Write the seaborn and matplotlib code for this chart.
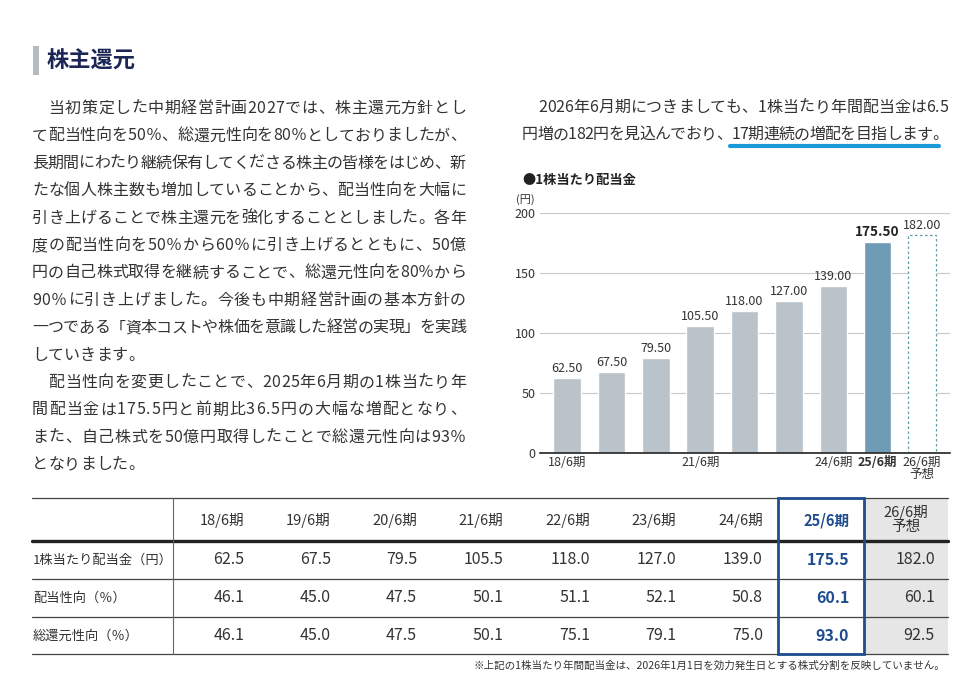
"""
株主還元 - dividend per share chart with text and summary table
"""

import numpy as np
import seaborn as sns
import matplotlib.pyplot as plt
from matplotlib import font_manager
from matplotlib.ft2font import FT2Font
from matplotlib.patches import Rectangle

sns.set_style('white')
plt.rcParams['font.family'] = ['Noto Sans CJK JP', 'DejaVu Sans']

# Data

periods = ['18/6期', '19/6期', '20/6期', '21/6期', '22/6期', '23/6期', '24/6期', '25/6期', '26/6期']
dividend = [62.5, 67.5, 79.5, 105.5, 118.0, 127.0, 139.0, 175.5, 182.0]
payout = [46.1, 45.0, 47.5, 50.1, 51.1, 52.1, 50.8, 60.1, 60.1]
total_return = [46.1, 45.0, 47.5, 50.1, 75.1, 79.1, 75.0, 93.0, 92.5]
row_labels = ['1株当たり配当金（円）', '配当性向（％）', '総還元性向（％）']
chart_xlabels = ['18/6期', '', '', '21/6期', '', '', '24/6期', '25/6期', '26/6期\n予想']
yticks = [0, 50, 100, 150, 200]

left_text = [
    '　当初策定した中期経営計画2027では、株主還元方針とし',
    'て配当性向を50％、総還元性向を80％としておりましたが、',
    '長期間にわたり継続保有してくださる株主の皆様をはじめ、新',
    'たな個人株主数も増加していることから、配当性向を大幅に',
    '引き上げることで株主還元を強化することとしました。各年',
    '度の配当性向を50％から60％に引き上げるとともに、50億',
    '円の自己株式取得を継続することで、総還元性向を80％から',
    '90％に引き上げました。今後も中期経営計画の基本方針の',
    '一つである「資本コストや株価を意識した経営の実現」を実践',
    'していきます。',
    '　配当性向を変更したことで、2025年6月期の1株当たり年',
    '間配当金は175.5円と前期比36.5円の大幅な増配となり、',
    'また、自己株式を50億円取得したことで総還元性向は93％',
    'となりました。',
]
left_last = [9, 13]  # last lines of paragraphs, not justified
right_text = [
    '　2026年6月期につきましても、1株当たり年間配当金は6.5',
    '円増の182円を見込んでおり、17期連続の増配を目指します。',
]
footnote = '※上記の1株当たり年間配当金は、2026年1月1日を効力発生日とする株式分割を反映していません。'

TEXT = '#333333'
NAVY = '#1c2656'
BLUE = '#1f4d8f'

fig = plt.figure(figsize=(9.78, 6.89), dpi=100)

# Background axes in pixel units for text and table
bg = fig.add_axes([0, 0, 1, 1])
bg.set_xlim(0, 978)
bg.set_ylim(689, 0)
bg.axis('off')

# Glyph advances, used to justify the body text
ft = FT2Font(font_manager.findfont(font_manager.FontProperties(family='Noto Sans CJK JP')))


def put_line(s, x0, y, size, x1=None):
    ft.set_size(size, 100)
    w = np.array([ft.load_char(ord(c)).linearHoriAdvance / 65536 for c in s])
    gap = 0 if x1 is None else (x1 - x0 - w.sum()) / (len(s) - 1)
    xs = x0 + np.concatenate([[0], np.cumsum(w)[:-1]]) + gap * np.arange(len(s))
    for c, x in zip(s, xs):
        if c.strip():
            bg.text(x, y, c, fontsize=size, color=TEXT, ha='left', va='baseline')
    return xs, w


# Title

bg.add_patch(Rectangle((33, 46), 5.5, 29, color='#b4bcc3', lw=0))
bg.text(47, 61, '株主還元', fontsize=16, fontweight='bold', color=NAVY, ha='left', va='center')

# Body text

for i, line in enumerate(left_text):
    put_line(line, 32, 113 + 27.4 * i, 11.5, None if i in left_last else 466)

put_line(right_text[0], 522, 112, 11.5, 948)
xs, w = put_line(right_text[1], 522, 139, 11.5, 948)
k = right_text[1].index('17')
bg.plot([xs[k] - 1, xs[-1] + w[-1] * 0.45], [146, 146], color='#1a9bd7', lw=3,
        solid_capstyle='round')

# Chart

bg.text(522, 180, '●1株当たり配当金', fontsize=9.5, fontweight='bold', color='#222222',
        ha='left', va='center')
bg.text(516, 200, '(円)', fontsize=8, color=TEXT, ha='left', va='center')

ax = fig.add_axes([540 / 978, (689 - 453) / 689, 410 / 978, 240 / 689])
bar_colors = ['#b9c3c9'] * 7 + ['#6f9bb4', '#ffffff']
sns.barplot(x=periods, y=dividend, hue=periods, palette=bar_colors, legend=False,
            width=0.62, saturation=1, ax=ax, zorder=2)
last = ax.patches[-1]
last.set_facecolor('white')
last.set_edgecolor('#5f9ea3')
last.set_linestyle((0, (2, 2)))
last.set_linewidth(0.9)

for i, v in enumerate(dividend):
    ax.text(i, v + 2.5, '{:.2f}'.format(v), ha='center', va='bottom',
            fontsize=9.8 if i == 7 else 9, color='#222222' if i == 7 else TEXT,
            fontweight='bold' if i == 7 else 'normal')

ax.set_xlim(-0.61, 8.63)
ax.set_ylim(0, 200)
ax.set_yticks(yticks)
ax.set_xticks(range(len(periods)))
ax.set_xticklabels(chart_xlabels, fontsize=9, color=TEXT, linespacing=0.95)
ax.get_xticklabels()[7].set_fontweight('bold')
ax.tick_params(axis='y', labelsize=9, labelcolor=TEXT, length=0, pad=3)
ax.tick_params(axis='x', length=0, pad=2)
ax.set_xlabel('')
ax.set_ylabel('')
ax.yaxis.grid(True, color='#c8c8c8', lw=0.8)
ax.set_axisbelow(True)
for s in ['left', 'top', 'right']:
    ax.spines[s].set_visible(False)
ax.spines['bottom'].set_color('#222222')
ax.spines['bottom'].set_linewidth(1.2)
ax.patch.set_alpha(0)

# Table

edges = list(173 + 86.4 * np.arange(9)) + [948]
rows_y = [498, 541, 579, 617, 654]
bg.add_patch(Rectangle((edges[8], 498), edges[9] - edges[8], 156, color='#e6e6e6', lw=0))
bg.plot([32, 948], [498, 498], color='#444444', lw=0.9)
bg.plot([32, 948], [541, 541], color='#222222', lw=2.4)
for y in rows_y[2:]:
    bg.plot([32, 948], [y, y], color='#444444', lw=0.9)
bg.plot([173, 173], [498, 654], color='#666666', lw=0.8)
bg.add_patch(Rectangle((edges[7], 498), edges[8] - edges[7], 156, fill=False,
                       edgecolor=BLUE, lw=2, zorder=5))

for i, p in enumerate(periods):
    right = edges[i + 1] - 15
    if i == 8:
        bg.text((edges[8] + edges[9]) / 2, 520, p + '\n予想', fontsize=10.5, color=TEXT,
                ha='center', va='center', linespacing=1.0)
    else:
        bg.text(right, 520, p, fontsize=10.5, ha='right', va='center',
                color=BLUE if i == 7 else TEXT, fontweight='bold' if i == 7 else 'normal')
    for r, vals in enumerate([dividend, payout, total_return]):
        bg.text(edges[i + 1] - (13 if i == 8 else 15), 560 + 38 * r, '{:.1f}'.format(vals[i]),
                fontsize=11.5, ha='right', va='center', color=BLUE if i == 7 else TEXT,
                fontweight='bold' if i == 7 else 'normal')

for r, lab in enumerate(row_labels):
    bg.text(33, 560 + 38 * r, lab, fontsize=9.5, color=TEXT, ha='left', va='center')

bg.text(945, 666, footnote, fontsize=7.6, color=TEXT, ha='right', va='center')

plt.savefig('out.png', dpi=100)
